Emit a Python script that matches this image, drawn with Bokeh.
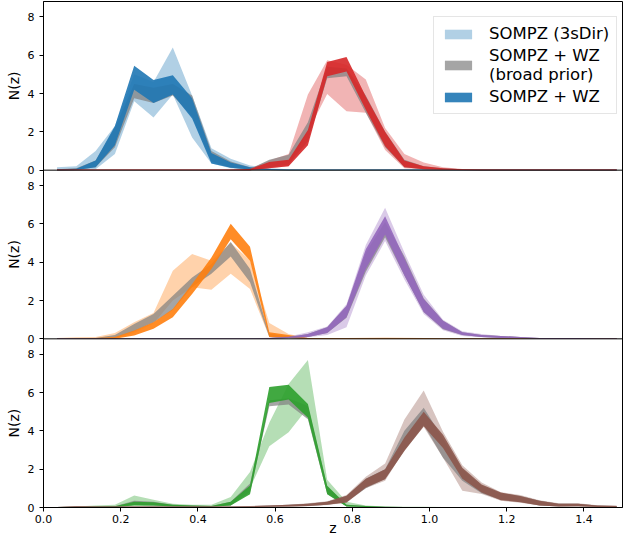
from math import pi
from bokeh.plotting import figure
from bokeh.layouts import row
from bokeh.models import (Range1d, FixedTicker, CustomJSTickFormatter, PrintfTickFormatter,
                          Span, Legend, LegendItem)
from bokeh.embed import file_html
from bokeh.resources import INLINE

# ---------------- data ----------------
z = [0.035, 0.085, 0.135, 0.185, 0.235, 0.285, 0.335, 0.385, 0.435, 0.485,
     0.535, 0.585, 0.635, 0.685, 0.735, 0.785, 0.835, 0.885, 0.935, 0.985,
     1.035, 1.085, 1.135, 1.185, 1.235, 1.285, 1.335, 1.385, 1.435, 1.485]

x_ticks = [0.0, 0.2, 0.4, 0.6, 0.8, 1.0, 1.2, 1.4]
y_ticks = [0, 2, 4, 6, 8]
y_max = 8.8

legend_labels = ["SOMPZ (3sDir)", "SOMPZ + WZ\n(broad prior)", "SOMPZ + WZ"]
y_label = "N(z)"
x_label = "z"

# bin 1 (blue)
bin1_3sdir_lo = [0.0, 0.0, 0.05, 0.85, 3.6, 2.75, 3.95, 1.7, 0.35, 0.1, 0.02, 0.01, 0.0, 0.0, 0.0, 0.0, 0.0, 0.0, 0.0, 0.0, 0.0, 0.0, 0.0, 0.0, 0.0, 0.0, 0.0, 0.0, 0.0, 0.0]
bin1_3sdir_hi = [0.15, 0.2, 1.0, 2.3, 5.0, 4.6, 6.4, 3.9, 1.15, 0.6, 0.25, 0.1, 0.05, 0.04, 0.04, 0.04, 0.04, 0.04, 0.04, 0.04, 0.04, 0.03, 0.03, 0.03, 0.03, 0.03, 0.03, 0.03, 0.03, 0.03]
bin1_broad_lo = [0.0, 0.01, 0.15, 1.2, 3.75, 3.5, 3.9, 2.8, 0.45, 0.12, 0.03, 0.01, 0.0, 0.0, 0.0, 0.0, 0.0, 0.0, 0.0, 0.0, 0.0, 0.0, 0.0, 0.0, 0.0, 0.0, 0.0, 0.0, 0.0, 0.0]
bin1_broad_hi = [0.05, 0.1, 0.5, 2.2, 4.5, 4.3, 4.5, 3.9, 1.0, 0.45, 0.15, 0.06, 0.04, 0.03, 0.03, 0.03, 0.03, 0.03, 0.03, 0.03, 0.03, 0.03, 0.03, 0.03, 0.03, 0.03, 0.03, 0.03, 0.03, 0.03]
bin1_wz_lo = [0.0, 0.01, 0.15, 1.3, 4.2, 3.5, 3.95, 2.7, 0.35, 0.12, 0.03, 0.01, 0.0, 0.0, 0.0, 0.0, 0.0, 0.0, 0.0, 0.0, 0.0, 0.0, 0.0, 0.0, 0.0, 0.0, 0.0, 0.0, 0.0, 0.0]
bin1_wz_hi = [0.05, 0.08, 0.5, 2.3, 5.45, 4.7, 4.95, 3.75, 0.9, 0.4, 0.15, 0.06, 0.04, 0.04, 0.04, 0.04, 0.04, 0.04, 0.04, 0.04, 0.04, 0.03, 0.03, 0.03, 0.03, 0.03, 0.03, 0.03, 0.03, 0.03]

# bin 2 (red)
bin2_3sdir_lo = [0.0, 0.0, 0.0, 0.0, 0.0, 0.0, 0.0, 0.0, 0.0, 0.0, 0.0, 0.1, 0.2, 2.0, 3.98, 3.08, 3.0, 1.05, 0.1, 0.05, 0.02, 0.0, 0.0, 0.0, 0.0, 0.0, 0.0, 0.0, 0.0, 0.0]
bin2_3sdir_hi = [0.04, 0.04, 0.04, 0.04, 0.04, 0.04, 0.04, 0.04, 0.04, 0.04, 0.08, 0.5, 0.85, 3.95, 5.73, 5.5, 4.73, 2.2, 0.85, 0.4, 0.15, 0.06, 0.05, 0.04, 0.04, 0.04, 0.04, 0.04, 0.04, 0.04]
bin2_broad_lo = [0.0, 0.0, 0.0, 0.0, 0.0, 0.0, 0.0, 0.0, 0.0, 0.0, 0.0, 0.15, 0.3, 1.5, 4.8, 4.9, 3.0, 1.2, 0.15, 0.05, 0.02, 0.01, 0.0, 0.0, 0.0, 0.0, 0.0, 0.0, 0.0, 0.0]
bin2_broad_hi = [0.03, 0.03, 0.03, 0.03, 0.03, 0.03, 0.03, 0.03, 0.03, 0.03, 0.06, 0.55, 0.8, 2.5, 5.4, 5.3, 3.9, 2.0, 0.55, 0.2, 0.1, 0.05, 0.04, 0.03, 0.03, 0.03, 0.03, 0.03, 0.03, 0.03]
bin2_wz_lo = [0.0, 0.0, 0.0, 0.0, 0.0, 0.0, 0.0, 0.0, 0.0, 0.0, 0.0, 0.1, 0.2, 1.3, 4.9, 5.15, 3.15, 1.25, 0.15, 0.05, 0.02, 0.01, 0.0, 0.0, 0.0, 0.0, 0.0, 0.0, 0.0, 0.0]
bin2_wz_hi = [0.03, 0.03, 0.03, 0.03, 0.03, 0.03, 0.03, 0.03, 0.03, 0.03, 0.06, 0.42, 0.55, 2.1, 5.65, 5.9, 3.85, 2.0, 0.5, 0.2, 0.1, 0.05, 0.04, 0.03, 0.03, 0.03, 0.03, 0.03, 0.03, 0.03]

# bin 3 (orange)
bin3_3sdir_lo = [0.0, 0.0, 0.0, 0.0, 0.3, 0.8, 2.0, 2.69, 2.56, 3.4, 2.6, 0.1, 0.05, 0.0, 0.0, 0.0, 0.0, 0.0, 0.0, 0.0, 0.0, 0.0, 0.0, 0.0, 0.0, 0.0, 0.0, 0.0, 0.0, 0.0]
bin3_3sdir_hi = [0.05, 0.08, 0.1, 0.3, 0.87, 1.35, 3.55, 4.42, 4.07, 5.0, 4.1, 0.83, 0.25, 0.05, 0.05, 0.05, 0.06, 0.07, 0.06, 0.05, 0.04, 0.04, 0.03, 0.03, 0.03, 0.03, 0.03, 0.03, 0.03, 0.03]
bin3_broad_lo = [0.0, 0.0, 0.0, 0.05, 0.4, 0.85, 1.5, 2.7, 3.4, 4.3, 2.95, 0.1, 0.05, 0.0, 0.0, 0.0, 0.0, 0.0, 0.0, 0.0, 0.0, 0.0, 0.0, 0.0, 0.0, 0.0, 0.0, 0.0, 0.0, 0.0]
bin3_broad_hi = [0.02, 0.03, 0.05, 0.2, 0.78, 1.3, 2.25, 3.2, 3.9, 5.05, 3.64, 0.25, 0.15, 0.04, 0.04, 0.04, 0.04, 0.04, 0.04, 0.04, 0.03, 0.03, 0.03, 0.03, 0.03, 0.03, 0.03, 0.03, 0.03, 0.03]
bin3_wz_lo = [0.0, 0.0, 0.0, 0.0, 0.17, 0.52, 1.13, 2.34, 3.64, 5.2, 4.07, 0.1, 0.05, 0.0, 0.0, 0.0, 0.0, 0.0, 0.0, 0.0, 0.0, 0.0, 0.0, 0.0, 0.0, 0.0, 0.0, 0.0, 0.0, 0.0]
bin3_wz_hi = [0.02, 0.03, 0.05, 0.1, 0.43, 0.87, 1.56, 2.86, 4.24, 6.0, 4.81, 0.35, 0.2, 0.04, 0.04, 0.04, 0.04, 0.04, 0.04, 0.04, 0.03, 0.03, 0.03, 0.03, 0.03, 0.03, 0.03, 0.03, 0.03, 0.03]

# bin 4 (purple)
bin4_3sdir_lo = [0.0, 0.0, 0.0, 0.0, 0.0, 0.0, 0.0, 0.0, 0.0, 0.0, 0.0, 0.0, 0.03, 0.08, 0.2, 0.61, 3.3, 5.1, 3.1, 1.3, 0.45, 0.15, 0.08, 0.05, 0.03, 0.01, 0.01, 0.0, 0.0, 0.0]
bin4_3sdir_hi = [0.03, 0.03, 0.03, 0.03, 0.03, 0.03, 0.03, 0.03, 0.03, 0.03, 0.03, 0.06, 0.12, 0.35, 0.65, 1.8, 4.9, 6.84, 4.5, 2.3, 1.0, 0.4, 0.25, 0.15, 0.1, 0.05, 0.04, 0.04, 0.03, 0.03]
bin4_broad_lo = [0.0, 0.0, 0.0, 0.0, 0.0, 0.0, 0.0, 0.0, 0.0, 0.0, 0.0, 0.0, 0.05, 0.1, 0.3, 1.1, 3.5, 5.3, 3.3, 1.4, 0.5, 0.2, 0.1, 0.05, 0.04, 0.01, 0.01, 0.01, 0.0, 0.0]
bin4_broad_hi = [0.03, 0.03, 0.03, 0.03, 0.03, 0.03, 0.03, 0.03, 0.03, 0.03, 0.03, 0.05, 0.1, 0.25, 0.6, 1.7, 4.5, 6.1, 4.3, 2.1, 0.95, 0.35, 0.2, 0.15, 0.1, 0.05, 0.04, 0.04, 0.03, 0.03]
bin4_wz_lo = [0.0, 0.0, 0.0, 0.0, 0.0, 0.0, 0.0, 0.0, 0.0, 0.0, 0.0, 0.0, 0.05, 0.1, 0.3, 1.13, 3.64, 5.45, 3.3, 1.4, 0.52, 0.2, 0.1, 0.05, 0.04, 0.01, 0.01, 0.01, 0.0, 0.0]
bin4_wz_hi = [0.03, 0.03, 0.03, 0.03, 0.03, 0.03, 0.03, 0.03, 0.03, 0.03, 0.03, 0.05, 0.1, 0.25, 0.6, 1.73, 4.68, 6.4, 4.2, 2.08, 0.95, 0.35, 0.2, 0.15, 0.1, 0.05, 0.04, 0.04, 0.03, 0.03]

# bin 5 (green)
bin5_3sdir_lo = [0.0, 0.0, 0.0, 0.0, 0.1, 0.05, 0.05, 0.02, 0.02, 0.1, 1.0, 3.2, 3.93, 5.2, 0.8, 0.05, 0.02, 0.0, 0.0, 0.0, 0.0, 0.0, 0.0, 0.0, 0.0, 0.0, 0.0, 0.0, 0.0, 0.0]
bin5_3sdir_hi = [0.02, 0.05, 0.1, 0.15, 0.62, 0.4, 0.2, 0.15, 0.15, 0.55, 1.85, 4.42, 6.45, 7.7, 1.45, 0.3, 0.1, 0.05, 0.04, 0.04, 0.03, 0.03, 0.03, 0.03, 0.03, 0.02, 0.02, 0.02, 0.02, 0.02]
bin5_broad_lo = [0.0, 0.0, 0.02, 0.02, 0.15, 0.1, 0.05, 0.04, 0.04, 0.1, 0.8, 5.28, 5.37, 4.6, 0.7, 0.05, 0.02, 0.0, 0.0, 0.0, 0.0, 0.0, 0.0, 0.0, 0.0, 0.0, 0.0, 0.0, 0.0, 0.0]
bin5_broad_hi = [0.02, 0.03, 0.05, 0.06, 0.35, 0.3, 0.15, 0.1, 0.08, 0.3, 1.25, 5.6, 5.7, 5.3, 1.1, 0.15, 0.08, 0.04, 0.03, 0.03, 0.03, 0.03, 0.03, 0.03, 0.03, 0.02, 0.02, 0.02, 0.02, 0.02]
bin5_wz_lo = [0.0, 0.0, 0.02, 0.02, 0.1, 0.1, 0.05, 0.04, 0.04, 0.1, 0.69, 5.45, 5.63, 4.68, 0.69, 0.05, 0.02, 0.0, 0.0, 0.0, 0.0, 0.0, 0.0, 0.0, 0.0, 0.0, 0.0, 0.0, 0.0, 0.0]
bin5_wz_hi = [0.02, 0.03, 0.05, 0.06, 0.3, 0.28, 0.15, 0.1, 0.08, 0.3, 1.15, 6.29, 6.4, 5.4, 1.13, 0.15, 0.08, 0.04, 0.03, 0.03, 0.03, 0.03, 0.03, 0.03, 0.03, 0.02, 0.02, 0.02, 0.02, 0.02]

# bin 6 (brown)
bin6_3sdir_lo = [0.0, 0.0, 0.0, 0.0, 0.0, 0.0, 0.0, 0.0, 0.0, 0.01, 0.02, 0.03, 0.04, 0.07, 0.13, 0.25, 1.0, 1.4, 3.0, 4.2, 2.6, 0.87, 0.7, 0.35, 0.25, 0.1, 0.05, 0.05, 0.02, 0.02]
bin6_3sdir_hi = [0.03, 0.08, 0.06, 0.06, 0.06, 0.06, 0.06, 0.06, 0.06, 0.06, 0.08, 0.11, 0.15, 0.22, 0.32, 0.65, 1.6, 2.29, 4.59, 6.1, 3.95, 2.2, 1.3, 0.8, 0.65, 0.38, 0.22, 0.22, 0.12, 0.1]
bin6_broad_lo = [0.0, 0.02, 0.01, 0.01, 0.01, 0.01, 0.01, 0.01, 0.01, 0.02, 0.03, 0.04, 0.05, 0.08, 0.15, 0.3, 1.0, 1.5, 3.0, 4.3, 2.6, 1.4, 0.75, 0.4, 0.3, 0.1, 0.05, 0.06, 0.02, 0.02]
bin6_broad_hi = [0.02, 0.07, 0.05, 0.05, 0.05, 0.05, 0.05, 0.05, 0.05, 0.05, 0.07, 0.1, 0.14, 0.2, 0.3, 0.6, 1.5, 2.0, 4.0, 5.2, 3.6, 2.0, 1.15, 0.75, 0.6, 0.35, 0.2, 0.2, 0.1, 0.08]
bin6_wz_lo = [0.0, 0.02, 0.01, 0.01, 0.01, 0.01, 0.01, 0.01, 0.01, 0.02, 0.03, 0.04, 0.05, 0.08, 0.15, 0.26, 1.04, 1.47, 2.95, 4.24, 3.1, 1.5, 0.78, 0.38, 0.28, 0.1, 0.05, 0.06, 0.02, 0.02]
bin6_wz_hi = [0.02, 0.07, 0.05, 0.05, 0.05, 0.05, 0.05, 0.05, 0.05, 0.05, 0.07, 0.1, 0.14, 0.2, 0.3, 0.61, 1.5, 1.99, 3.65, 5.0, 3.8, 2.08, 1.2, 0.78, 0.6, 0.35, 0.2, 0.2, 0.1, 0.08]

bin_colors = ["#1f77b4", "#d62728", "#ff7f0e", "#9467bd", "#2ca02c", "#8c564b"]
broad_color = "#7f7f7f"

bins = [
    (bin1_3sdir_lo, bin1_3sdir_hi, bin1_broad_lo, bin1_broad_hi, bin1_wz_lo, bin1_wz_hi),
    (bin2_3sdir_lo, bin2_3sdir_hi, bin2_broad_lo, bin2_broad_hi, bin2_wz_lo, bin2_wz_hi),
    (bin3_3sdir_lo, bin3_3sdir_hi, bin3_broad_lo, bin3_broad_hi, bin3_wz_lo, bin3_wz_hi),
    (bin4_3sdir_lo, bin4_3sdir_hi, bin4_broad_lo, bin4_broad_hi, bin4_wz_lo, bin4_wz_hi),
    (bin5_3sdir_lo, bin5_3sdir_hi, bin5_broad_lo, bin5_broad_hi, bin5_wz_lo, bin5_wz_hi),
    (bin6_3sdir_lo, bin6_3sdir_hi, bin6_broad_lo, bin6_broad_hi, bin6_wz_lo, bin6_wz_hi),
]
# panel index (0 = top) for each bin
bin_panel = [0, 0, 1, 1, 2, 2]

# ---------------- figure ----------------
FONT = "DejaVu Sans"
n_panels = 3
FRAME_H = 506
FRAME_W = 579

y_range = Range1d(0, n_panels * y_max)
p = figure(frame_width=FRAME_W, frame_height=FRAME_H, output_backend="svg",
           toolbar_location=None, x_range=Range1d(0, 1.5), y_range=y_range,
           min_border_left=21, min_border_right=1, min_border_top=1, min_border_bottom=0)
p.grid.visible = False
p.outline_line_color = "black"
p.outline_line_alpha = 1.0
p.outline_line_width = 1

offsets = [(n_panels - 1 - i) * y_max for i in range(n_panels)]
range_names = []
for i, offset in enumerate(offsets):
    name = f"panel{i}"
    p.extra_y_ranges[name] = Range1d(-offset, n_panels * y_max - offset)
    range_names.append(name)
    if i > 0:
        p.add_layout(Span(location=offset + y_max, dimension="width",
                          line_color="black", line_width=1))

tick_pos = [o + t for o in offsets for t in y_ticks]
yax = p.yaxis[0]
yax.ticker = FixedTicker(ticks=tick_pos)
yax.formatter = CustomJSTickFormatter(args=dict(h=y_max), code="""
    const v = tick - Math.floor((tick + 1e-6) / h) * h;
    return Math.round(v).toString();
""")
xax = p.xaxis[0]
xax.ticker = FixedTicker(ticks=x_ticks)
xax.formatter = PrintfTickFormatter(format="%.1f")
xax.axis_label = x_label
for ax in (xax, yax):
    ax.minor_tick_line_color = None
    ax.major_tick_in = 0
    ax.major_tick_out = 4
    ax.major_tick_line_color = "black"
    ax.axis_line_color = "black"
    ax.major_label_text_font = FONT
    ax.major_label_text_font_size = "11px"
    ax.major_label_text_color = "black"
    ax.axis_label_text_font = FONT
    ax.axis_label_text_font_size = "14px"
    ax.axis_label_text_font_style = "normal"
    ax.axis_label_text_color = "black"
yax.major_label_standoff = 5
xax.major_label_standoff = 3
xax.axis_label_standoff = -6

legend_renderers = None
for b, (l_lo, l_hi, g_lo, g_hi, w_lo, w_hi) in enumerate(bins):
    rn = range_names[bin_panel[b]]
    c = bin_colors[b]
    r1 = p.varea(x=z, y1=l_lo, y2=l_hi, fill_color=c, fill_alpha=0.35, y_range_name=rn)
    r2 = p.varea(x=z, y1=g_lo, y2=g_hi, fill_color=broad_color, fill_alpha=0.7, y_range_name=rn)
    r3 = p.varea(x=z, y1=w_lo, y2=w_hi, fill_color=c, fill_alpha=0.9, y_range_name=rn)
    if legend_renderers is None:
        legend_renderers = [r1, r2, r3]

legend = Legend(items=[LegendItem(label=legend_labels[i], renderers=[legend_renderers[i]])
                       for i in range(3)],
                location=(390, FRAME_H - 113), orientation="vertical",
                label_text_font=FONT, label_text_font_size="16.5px", label_text_color="black",
                label_text_line_height=1.05,
                glyph_width=34, glyph_height=12, label_standoff=14, padding=7, spacing=3,
                border_line_color="#cccccc", border_line_width=1,
                background_fill_color="white", background_fill_alpha=0.8)
p.add_layout(legend, "center")

# narrow strip on the left carrying the per-panel "N(z)" labels
lab = figure(frame_width=22, frame_height=FRAME_H, output_backend="svg",
             toolbar_location=None, x_range=Range1d(0, 1), y_range=y_range,
             min_border_left=0, min_border_right=0, min_border_top=1, min_border_bottom=0)
lab.axis.visible = False
lab.grid.visible = False
lab.outline_line_color = None
lab.text(x=[0.62] * n_panels, y=[o + y_max / 2 for o in offsets], text=[y_label] * n_panels,
         angle=pi / 2, text_align="center", text_baseline="middle",
         text_font={"value": FONT}, text_font_size={"value": "14px"}, text_color="black")

layout = row(lab, p, spacing=0)
open("out.html", "w").write(file_html(layout, INLINE))
